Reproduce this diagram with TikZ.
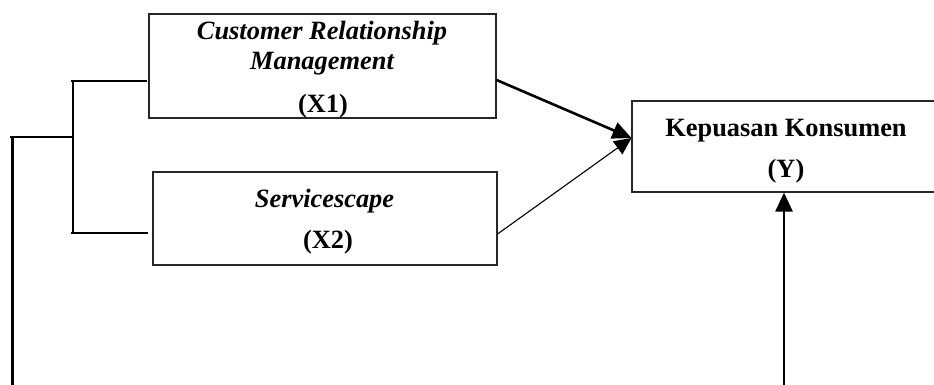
\documentclass[tikz,border=0pt]{standalone}
\usepackage{fontspec}
\setmainfont{Liberation Serif}
\usetikzlibrary{arrows.meta}
\begin{document}
\begin{tikzpicture}[x=1pt,y=-1pt,
  box/.style={draw=black!85,line width=1.1pt,rectangle,inner sep=0pt},
  lbl/.style={anchor=base,inner sep=0pt,font=\fontsize{26.4}{31}\selectfont\bfseries},
  thickln/.style={line width=2.6pt},
  tip/.style={-{Triangle[length=19pt,width=17pt]}},
  tipthin/.style={-{Triangle[length=17pt,width=16pt]}}]
\useasboundingbox (0,0) rectangle (934,385);
\clip (0,0) rectangle (934,385);
% boxes
\node[box,minimum width=347pt,minimum height=104pt] (x1box) at (322.5,66) {};
\node[box,minimum width=344pt,minimum height=93pt] (x2box) at (325,218.5) {};
\node[box,minimum width=313pt,minimum height=91pt] (ybox) at (788.5,146.5) {};
% texts
\node[lbl] (t1a) at (322,39.3) {\itshape Customer Relationship};
\node[lbl] (t1b) at (322,70) {\itshape Management};
\node[lbl] (t1c) at (323,112.7) {(X1)};
\node[lbl] (t2a) at (324.5,207.3) {\itshape Servicescape};
\node[lbl] (t2b) at (328,248.3) {(X2)};
\node[lbl] (t3a) at (786,136.7) {Kepuasan Konsumen};
\node[lbl] (t3b) at (786,177.3) {(Y)};
% coordinates
\coordinate (x1out) at ([yshift=-14pt]x1box.east);
\coordinate (x2out) at ([yshift=-15.5pt]x2box.east);
\coordinate (yin) at ([yshift=8.5pt]ybox.west);
\coordinate (yup) at ([xshift=-4.5pt]ybox.south);
\coordinate (ybot) at (784,386);
\coordinate (br1) at (147,81);
\coordinate (br2) at (148,233);
\coordinate (brtop) at (71,81);
\coordinate (brbot) at (71,233);
\coordinate (brmid) at (73,137);
\coordinate (lmid) at (10,137);
\coordinate (lbot) at (12.5,386);
% arrows
\draw[thickln,tip] (x1out) -- (yin);
\draw[line width=1.1pt,tipthin] (x2out) -- (yin);
\draw[thickln,tip] (ybot) -- (yup);
% bracket
\draw[thickln] (br1) -- (brtop);
\draw[thickln] (br2) -- (brbot);
\draw[thickln] (73,81) -- (73,233);
\draw[thickln] (brmid) -- (lmid);
\draw[thickln] (12.5,137) -- (lbot);
\end{tikzpicture}
\end{document}
